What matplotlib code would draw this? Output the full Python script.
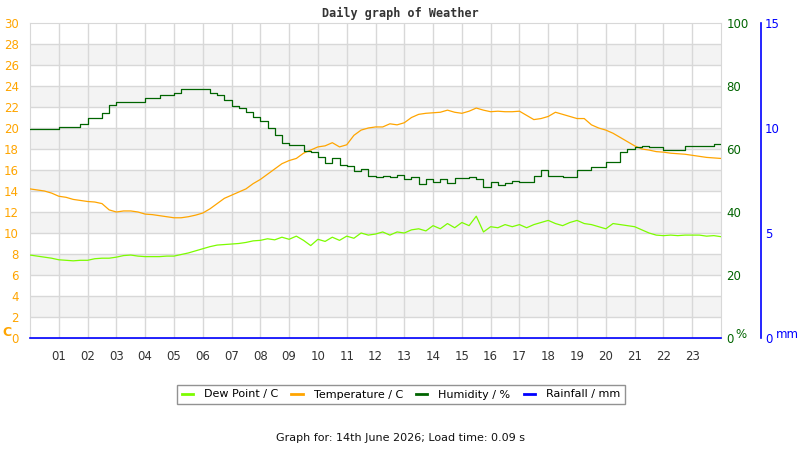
import numpy as np
import matplotlib
matplotlib.use("Agg")
import matplotlib.pyplot as plt
from matplotlib.lines import Line2D

# readings every 15 minutes, 00:00 .. 24:00
temperature_c = [
    14.2, 14.1, 14.0, 13.8, 13.5, 13.4, 13.2, 13.1, 13.0, 12.95, 12.8, 12.2,
    12.0, 12.1, 12.1, 12.0, 11.8, 11.75, 11.65, 11.55, 11.45, 11.45, 11.55, 11.7,
    11.9, 12.3, 12.8, 13.3, 13.6, 13.9, 14.2, 14.7, 15.1, 15.6, 16.1, 16.6,
    16.9, 17.1, 17.6, 17.9, 18.2, 18.3, 18.6, 18.2, 18.4, 19.3, 19.8, 20.0,
    20.1, 20.1, 20.4, 20.3, 20.5, 21.0, 21.3, 21.4, 21.45, 21.5, 21.7, 21.5,
    21.4, 21.6, 21.9, 21.7, 21.55, 21.6, 21.55, 21.55, 21.6, 21.2, 20.8, 20.9,
    21.1, 21.5, 21.3, 21.1, 20.9, 20.9, 20.3, 20.0, 19.8, 19.5, 19.1, 18.7,
    18.3, 18.0, 17.9, 17.75, 17.7, 17.6, 17.55, 17.5, 17.4, 17.3, 17.2, 17.15,
    17.1,
]
dew_point_c = [
    7.9, 7.8, 7.7, 7.6, 7.45, 7.4, 7.35, 7.4, 7.4, 7.55, 7.6, 7.6,
    7.7, 7.85, 7.9, 7.8, 7.75, 7.75, 7.75, 7.8, 7.8, 7.95, 8.1, 8.3,
    8.5, 8.7, 8.85, 8.9, 8.95, 9.0, 9.1, 9.25, 9.3, 9.45, 9.35, 9.6,
    9.4, 9.7, 9.3, 8.8, 9.4, 9.2, 9.6, 9.3, 9.7, 9.5, 10.0, 9.8,
    9.9, 10.1, 9.8, 10.1, 10.0, 10.3, 10.4, 10.2, 10.7, 10.4, 10.9, 10.5,
    11.0, 10.7, 11.6, 10.1, 10.6, 10.5, 10.8, 10.6, 10.8, 10.5, 10.8, 11.0,
    11.2, 10.9, 10.7, 11.0, 11.2, 10.9, 10.8, 10.6, 10.4, 10.9, 10.8, 10.7,
    10.6, 10.3, 10.0, 9.8, 9.75, 9.8, 9.75, 9.8, 9.8, 9.8, 9.7, 9.75,
    9.65,
]
humidity_pct = [
    66.5, 66.5, 66.5, 66.5, 67.0, 67.0, 67.0, 68.0, 69.7, 69.7, 71.4, 74.0,
    74.8, 74.8, 74.8, 74.8, 76.1, 76.1, 77.1, 77.1, 77.9, 79.0, 79.0, 79.0,
    79.0, 77.9, 77.1, 75.6, 73.5, 73.0, 71.7, 70.3, 69.0, 66.8, 64.5, 62.0,
    61.3, 61.3, 59.5, 59.0, 57.5, 55.5, 57.0, 55.0, 54.5, 53.0, 53.5, 51.5,
    51.0, 51.5, 51.0, 51.8, 50.5, 51.0, 49.0, 50.5, 49.5, 50.5, 49.2, 50.8,
    50.8, 51.0, 50.5, 48.0, 49.5, 48.6, 49.2, 49.8, 49.6, 49.6, 51.5, 53.3,
    51.4, 51.4, 51.0, 51.0, 53.3, 53.3, 54.4, 54.4, 56.0, 56.0, 59.1, 59.9,
    60.5, 61.0, 60.5, 60.5, 59.7, 59.7, 59.7, 61.0, 61.0, 61.0, 61.0, 61.5,
    61.5,
]
rainfall_mm = [0.0] * len(temperature_c)

hour_labels = ["%02d" % h for h in range(1, 24)]

hours = np.arange(len(temperature_c)) * 0.25

fig = plt.figure(figsize=(8, 4.5), dpi=100)
ax = fig.add_axes([30 / 800, 1 - 338 / 450, 691 / 800, 315 / 450])

# alternate grey bands
for lo in range(2, 30, 4):
    ax.axhspan(lo, lo + 2, color="#f3f3f3", zorder=0, lw=0)
for y in range(2, 30, 2):
    ax.axhline(y, color="#d8d8d8", lw=1, zorder=1)
for h in range(1, 24):
    ax.axvline(h, color="#d8d8d8", lw=1, zorder=1)

ax.plot(hours, dew_point_c, color="#7cfc00", lw=0.9, zorder=3)
ax.plot(hours, temperature_c, color="#ffa500", lw=0.9, zorder=3)

ax.set_xlim(0, 24)
ax.set_ylim(0, 30)
ax.set_yticks(range(0, 31, 2))
ax.set_xticks(range(1, 24))
ax.set_xticklabels(hour_labels)
ax.tick_params(axis="y", length=0, labelcolor="#ffa500", labelsize=8.5, pad=8)
ax.tick_params(axis="x", length=0, labelcolor="#333333", labelsize=8.5, pad=9)
for s in ax.spines.values():
    s.set_color("#d8d8d8")

ax2 = ax.twinx()
ax2.step(hours, humidity_pct, where="post", color="#006400", lw=0.9, zorder=4)
ax2.set_ylim(0, 100)
ax2.set_yticks(range(0, 101, 20))
ax2.tick_params(axis="y", length=0, labelcolor="#006400", labelsize=8.5, pad=4)
for s in ax2.spines.values():
    s.set_visible(False)

ax3 = ax.twinx()
ax3.plot(hours, rainfall_mm, color="#0000ff", lw=1.2, zorder=5, clip_on=False)
ax3.set_ylim(0, 15)
ax3.set_yticks([0, 5, 10, 15])
ax3.spines["right"].set_position(("axes", (761 - 30) / 691))
for k in ["left", "top", "bottom"]:
    ax3.spines[k].set_visible(False)
ax3.spines["right"].set_color("#0000ff")
ax3.spines["right"].set_linewidth(1.2)
ax3.tick_params(axis="y", length=0, labelcolor="#0000ff", labelsize=8.5, pad=3)

fig.text(0.5, 1 - 13 / 450, "Daily graph of Weather", ha="center", va="center",
         family="DejaVu Sans Mono", weight="bold", fontsize=8.5, color="#333333")
fig.text(2 / 800, 1 - 333 / 450, "C", ha="left", va="center", weight="bold",
         fontsize=9, color="#ffa500")
fig.text(735 / 800, 1 - 335 / 450, "%", ha="left", va="center",
         fontsize=8.5, color="#006400")
fig.text(776 / 800, 1 - 335 / 450, "mm", ha="left", va="center",
         fontsize=8.5, color="#0000ff")

handles = [
    Line2D([], [], color="#7cfc00", lw=2),
    Line2D([], [], color="#ffa500", lw=2),
    Line2D([], [], color="#006400", lw=2),
    Line2D([], [], color="#0000ff", lw=2),
]
labels = ["Dew Point / C", "Temperature / C", "Humidity / %", "Rainfall / mm"]
leg = fig.legend(handles, labels, loc="center", ncol=4,
                 bbox_to_anchor=(401 / 800, 1 - 394.5 / 450), fontsize=8,
                 handlelength=1.0, handletextpad=1.0, columnspacing=1.2,
                 frameon=True, fancybox=False, borderpad=0.4)
leg.get_frame().set_edgecolor("#777777")
leg.get_frame().set_linewidth(1)

fig.text(0.5, 1 - 438 / 450, "Graph for: 14th June 2026; Load time: 0.09 s",
         ha="center", va="center", fontsize=8, color="#111111")

fig.savefig("out.png", dpi=100)
